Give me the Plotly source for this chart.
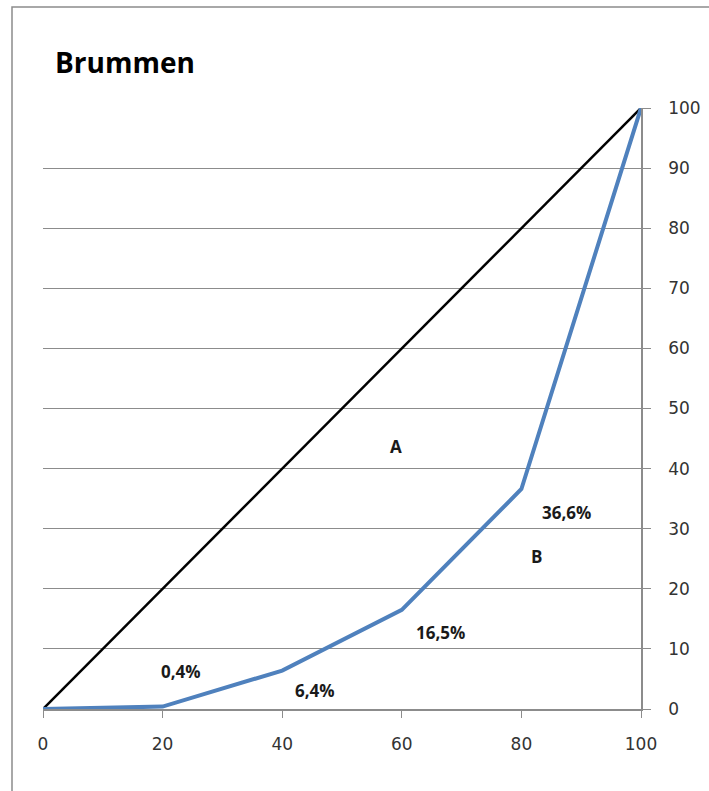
import plotly.graph_objects as go

x_vals = [0, 20, 40, 60, 80, 100]
lorenz = [0, 0.4, 6.4, 16.5, 36.6, 100]
equality = [0, 100]
equality_x = [0, 100]
point_labels = ["0,4%", "6,4%", "16,5%", "36,6%"]
label_pos = [(23, 6.3), (45.5, 3.0), (66.5, 12.8), (87.5, 32.7)]
area_labels = [("A", 59, 43.7), ("B", 82.5, 25.4)]

W, H = 709, 791
L, T = 43, 108
pw, ph = 598, 601
R, B = W - L - pw, H - T - ph

fig = go.Figure()
fig.add_trace(go.Scatter(x=equality_x, y=equality, mode="lines",
                         line=dict(color="black", width=2.5), showlegend=False, hoverinfo="skip"))
fig.add_trace(go.Scatter(x=x_vals, y=lorenz, mode="lines",
                         line=dict(color="#4F81BD", width=4), showlegend=False))

for t, (xx, yy) in zip(point_labels, label_pos):
    fig.add_annotation(x=xx, y=yy, text=f"<b>{t}</b>", showarrow=False,
                       font=dict(size=17, color="#1a1a1a", family="Open Sans"))
for t, xx, yy in area_labels:
    fig.add_annotation(x=xx, y=yy, text=f"<b>{t}</b>", showarrow=False,
                       font=dict(size=17, color="#1a1a1a", family="Open Sans"))

fig.add_annotation(xref="paper", yref="paper", x=(53 - L) / pw, y=(H - B - 62) / ph,
                   xanchor="left", yanchor="middle", text="<b>Brummen</b>", showarrow=False,
                   font=dict(size=28, color="black", family="Open Sans"))

# outer chart border
fig.add_shape(type="rect", xref="paper", yref="paper",
              x0=(12 - L) / pw, x1=1.3, y0=-0.3, y1=(H - B - 7) / ph,
              line=dict(color="#8c8c8c", width=1.5), fillcolor="rgba(0,0,0,0)", layer="below")

tickfont = dict(size=17, color="#333333", family="DejaVu Sans")
fig.update_xaxes(range=[0, 100], tickvals=[0, 20, 40, 60, 80, 100], showgrid=False,
                 showline=True, linecolor="#8c8c8c", linewidth=1.5, ticks="outside",
                 ticklen=7, tickcolor="#8c8c8c", zeroline=False, ticklabelstandoff=12,
                 tickfont=tickfont, automargin=False)
fig.update_yaxes(range=[0, 100], tickvals=list(range(0, 101, 10)), side="right",
                 showgrid=True, gridcolor="#8c8c8c", gridwidth=1.2,
                 showline=True, linecolor="#8c8c8c", linewidth=1.5, ticks="outside",
                 ticklen=8, tickcolor="#8c8c8c", zeroline=False, ticklabelstandoff=14,
                 tickfont=tickfont, automargin=False)

fig.update_layout(width=W, height=H, margin=dict(l=L, r=R, t=T, b=B, pad=0),
                  plot_bgcolor="white", paper_bgcolor="white")

fig.write_html("out.html", config={"displayModeBar": False},
               post_script="document.body.style.margin='0px';")
